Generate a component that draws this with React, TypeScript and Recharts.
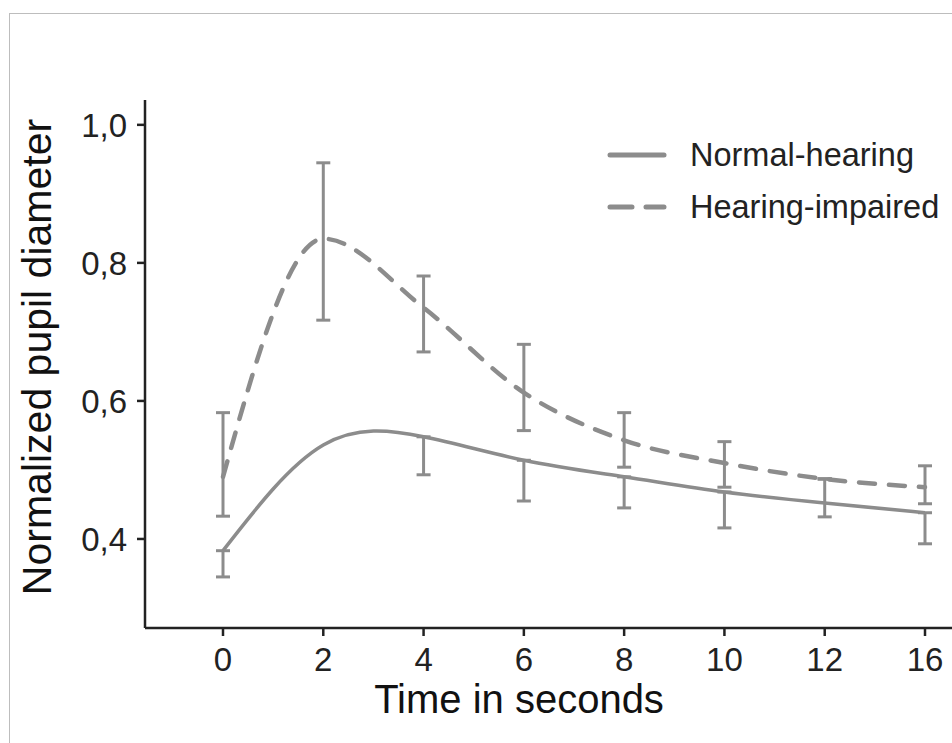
import { LineChart, Line, XAxis, YAxis, ErrorBar, Legend } from 'recharts';

const timeLabels = ['0', '2', '4', '6', '8', '10', '12', '16'];

// normal-hearing group: curve value at each time and the error bar ends
const normalHearing = [0.383, 0.536, 0.548, 0.514, 0.49, 0.468, 0.452, 0.438];
const normalLow = [0.345, null, 0.493, 0.455, 0.445, 0.416, 0.432, 0.393];
const normalHigh = [0.383, null, 0.548, 0.514, 0.49, 0.468, 0.487, 0.438];

// hearing-impaired group
const hearingImpaired = [0.49, 0.835, 0.735, 0.612, 0.543, 0.51, 0.487, 0.475];
const impairedLow = [0.433, 0.717, 0.671, 0.557, 0.504, 0.475, 0.487, 0.451];
const impairedHigh = [0.583, 0.945, 0.781, 0.682, 0.583, 0.541, 0.487, 0.506];

const yTicks = [0.4, 0.6, 0.8, 1.0];

const GREY = '#8c8c8c';
const INK = '#222';
const FONT = '"Liberation Sans", Arial, sans-serif';

const errRange = (v: number, lo: number | null, hi: number | null) =>
  lo == null || hi == null ? null : [v - lo, hi - v];

const data = timeLabels.map((time, i) => ({
  time,
  normal: normalHearing[i],
  impaired: hearingImpaired[i],
  normalErr: errRange(normalHearing[i], normalLow[i], normalHigh[i]),
  impairedErr: errRange(hearingImpaired[i], impairedLow[i], impairedHigh[i]),
}));

const legendItems = [
  { name: 'Normal-hearing', dash: undefined },
  { name: 'Hearing-impaired', dash: '22 14' },
];

const renderLegend = () => (
  <div style={{ display: 'flex', flexDirection: 'column' }}>
    {legendItems.map((item) => (
      <div key={item.name} style={{ display: 'flex', alignItems: 'center', height: 52 }}>
        <svg width={62} height={10} style={{ marginRight: 22 }}>
          <line x1={4} y1={5} x2={58} y2={5} stroke={GREY} strokeWidth={5}
            strokeLinecap="round" strokeDasharray={item.dash} />
        </svg>
        <span style={{ fontSize: 32.5, lineHeight: '52px', color: INK, whiteSpace: 'nowrap' }}>
          {item.name}
        </span>
      </div>
    ))}
  </div>
);

const renderXTitle = () => (
  <text x={519} y={713} textAnchor="middle" fontSize={40} fill="#111" fontFamily={FONT}>
    Time in seconds
  </text>
);

const renderYTitle = () => (
  <text x={51} y={357} textAnchor="middle" fontSize={41} fill="#111" fontFamily={FONT}
    transform="rotate(-90, 51, 357)">
    Normalized pupil diameter
  </text>
);

const tickStyle = { fill: INK, fontSize: 33, fontFamily: FONT };

export default function App() {
  return (
    <div style={{ position: 'absolute', left: 0, top: 0, width: 952, height: 743, overflow: 'hidden', background: '#fff', fontFamily: FONT }}>
      <div style={{ position: 'absolute', left: 9, top: 13, width: 980, height: 780, borderTop: '1.5px solid #bdbdbd', borderLeft: '1.5px solid #bdbdbd' }} />
      <LineChart width={952} height={743} data={data} margin={{ top: 100, right: 0, bottom: 0, left: 0 }}>
        <XAxis
          dataKey="time"
          type="category"
          interval={0}
          padding={{ left: 78, right: 27 }}
          height={115}
          axisLine={{ stroke: INK, strokeWidth: 2.5 }}
          tickLine={{ stroke: INK, strokeWidth: 2.5 }}
          tickSize={8}
          tickMargin={12}
          fontSize={33}
          tick={tickStyle}
          label={{ content: renderXTitle }}
        />
        <YAxis
          domain={[0.271, 1.036]}
          allowDataOverflow
          ticks={yTicks}
          tickFormatter={(v: number) => v.toFixed(1).replace('.', ',')}
          width={145}
          axisLine={{ stroke: INK, strokeWidth: 2.5 }}
          tickLine={{ stroke: INK, strokeWidth: 2.5 }}
          tickSize={8}
          tickMargin={10}
          fontSize={33}
          tick={tickStyle}
          label={{ content: renderYTitle }}
        />
        <Legend
          layout="horizontal"
          verticalAlign="middle"
          align="center"
          content={renderLegend}
          wrapperStyle={{ left: 606, top: 129, width: 346 }}
        />
        <Line
          type="natural"
          dataKey="normal"
          name="Normal-hearing"
          stroke={GREY}
          strokeWidth={3.5}
          dot={false}
          activeDot={false}
          isAnimationActive={false}
        >
          <ErrorBar dataKey="normalErr" direction="y" width={7} stroke={GREY} strokeWidth={3} isAnimationActive={false} />
        </Line>
        <Line
          type="monotone"
          dataKey="impaired"
          name="Hearing-impaired"
          stroke={GREY}
          strokeWidth={4.5}
          strokeDasharray="16 14"
          strokeLinecap="round"
          dot={false}
          activeDot={false}
          isAnimationActive={false}
        >
          <ErrorBar dataKey="impairedErr" direction="y" width={7} stroke={GREY} strokeWidth={3} isAnimationActive={false} />
        </Line>
      </LineChart>
    </div>
  );
}
